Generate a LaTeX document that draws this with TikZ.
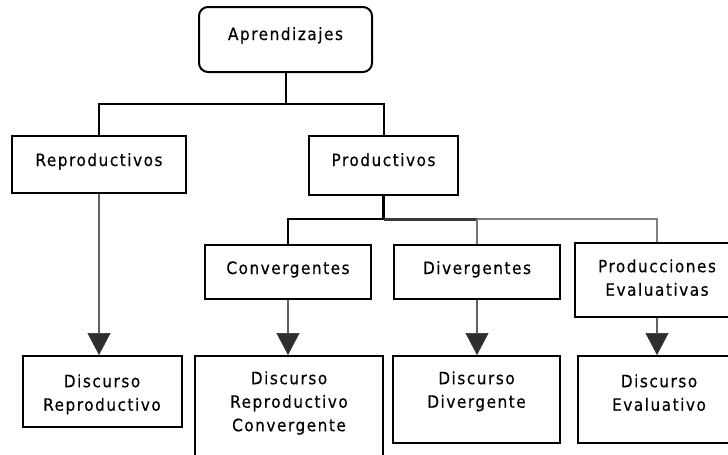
\documentclass[tikz,border=0pt]{standalone}
\usepackage{fontspec}
\setmainfont{DejaVu Sans Condensed}[LetterSpace=9,FakeBold=0.4]
\usetikzlibrary{arrows.meta}

\begin{document}
\begin{tikzpicture}[x=1pt,y=-1pt,
 box/.style={draw=black, line width=2pt, fill=white, inner sep=0pt},
 txt/.style={inner sep=0pt, align=center, text=black, font=\fontsize{17}{23.5}\selectfont},
 link/.style={draw=black, line width=2pt},
 arr/.style={draw=black!62, line width=2.2pt, -{Triangle[width=23pt,length=22pt,fill=black!82,color=black!82,line width=0.5pt]}}
]
\useasboundingbox (0,0) rectangle (728,455);
\fill[white] (0,0) rectangle (728,455);
\clip (0,0) rectangle (728,455);

% boxes
\node[box, rounded corners=9pt, minimum width=173pt, minimum height=65pt] (A) at (285.5,39.5) {};
\node[box, minimum width=174pt, minimum height=57pt] (R) at (99,164.5) {};
\node[box, minimum width=149pt, minimum height=59pt] (P) at (383.5,165.5) {};
\node[box, minimum width=166pt, minimum height=54pt] (C) at (288,272) {};
\node[box, minimum width=166pt, minimum height=54pt] (D) at (477,272) {};
\node[box, minimum width=164pt, minimum height=74pt] (PE) at (657,280) {};
\node[box, minimum width=159pt, minimum height=71pt] (DR) at (102,391.5) {};
\node[box, minimum width=188pt, minimum height=114pt] (DRC) at (289,413) {};
\node[box, minimum width=167pt, minimum height=87pt] (DD) at (476.5,399.5) {};
\node[box, minimum width=162pt, minimum height=87pt] (DE) at (659,399.5) {};

% texts
\node[txt, anchor=base] (At) at (285.5,40) {Aprendizajes};
\node[txt, anchor=base] (Rt) at (99,166) {Reproductivos};
\node[txt, anchor=base] (Pt) at (383.5,166) {Productivos};
\node[txt, anchor=base] (Ct) at (288,274) {Convergentes};
\node[txt, anchor=base] (Dt) at (477,274) {Divergentes};
\node[txt, anchor=north] (PEt) at (657,259.1) {Producciones\\Evaluativas};
\node[txt, anchor=north] (DRt) at (102,374.1) {Discurso\\Reproductivo};
\node[txt, anchor=north] (DRCt) at (289,371.1) {Discurso\\Reproductivo\\Convergente};
\node[txt, anchor=north] (DDt) at (476.5,371.1) {Discurso\\Divergente};
\node[txt, anchor=north] (DEt) at (659,374.1) {Discurso\\Evaluativo};

% connectors
\coordinate (j1) at (285.5,104);
\draw[link] (A.south) -- (j1);
\draw[link] (R.north) |- (j1) -| (P.north);
\coordinate (j2) at (383.5,219);
\draw[link, line width=2.5pt] (P.south) -- (j2);
\draw[link] (j2) -| (C.north);
\draw[draw=black!78, line width=3pt] (j2) -- (j2 -| D.north);
\draw[draw=black!50, line width=2.5pt] (j2 -| D.north) -| (PE.north);
\draw[draw=black!55, line width=2.5pt] (j2 -| D.north) -- (D.north);

% arrows
\draw[arr] (R.south) -- (R.south |- DR.north);
\draw[arr] (C.south) -- (C.south |- DRC.north);
\draw[arr] (D.south) -- (D.south |- DD.north);
\draw[arr] (PE.south) -- (PE.south |- DE.north);
\end{tikzpicture}
\end{document}
